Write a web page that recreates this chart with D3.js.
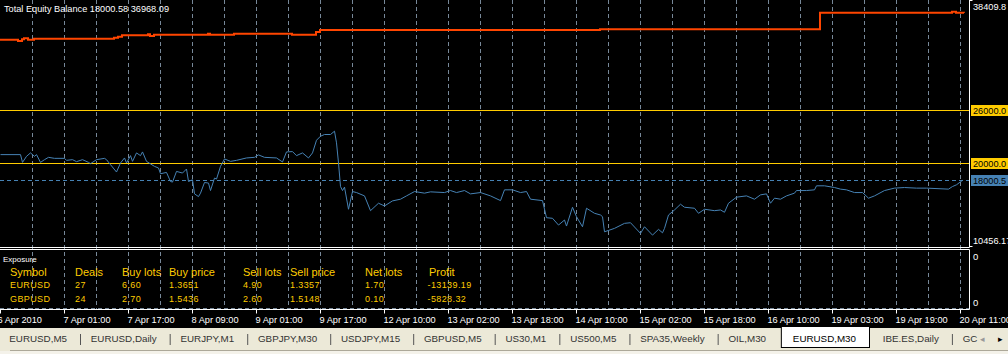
<!DOCTYPE html>
<html>
<head>
<meta charset="utf-8">
<script src="https://cdn.jsdelivr.net/npm/d3@7"></script>
<style>
body { margin: 0; background: #000; overflow: hidden; }
svg text { font-family: "Liberation Sans", Arial, sans-serif; }
</style>
</head>
<body>
<script>
// ---- data ----
var equityBars = [0,10,11,13,15,17,18,20,22,24,27,32,33,36,38,41,44,45,48,52,53,55,58,60,62,63,65,66,68,70,71,73,77,79,80,83,85,86,88,91,93,94,96,97,99,100,102,104,105,107,108,110,112,115,118,123,127,129,132,138,141,143,146,148,151,154,156,158,160,162,165,167,168,169,170,171,172,174,176,178,182,185,189,192,196,200,203,207,212,215,222,225,228,232,235,240,245,250,252,256,260,263,265,271,273,276,279,282,283,286,288,291,293,297,300,301,302,307,312,315,320,322,326,329,331,332,334,337,340,342,347,349,352,357,360,362,364,368,373,377,380,383,385,387,390,393,397,398,403,407,408,412,417,420,423,427,431,434,437,442,447,452,458,463,474,476,478,481];
var equityValues = [20911,20911,20034,20717,21104,20717,20911,20034,20341,20603,20489,20489,20262,20341,20114,20341,20034,19886,20341,20489,20341,19772,18941,19965,20535,19965,20797,20148,21104,20797,21218,20148,19579,19397,18747,18895,17870,17802,19009,18827,19282,17870,18064,16470,16163,16550,17757,17689,16846,18258,18144,19579,20421,20148,20262,20535,20603,20877,20603,20535,20079,21218,21252,20797,21104,20535,21104,22539,22994,23188,23188,23564,22243,19965,17301,16846,17233,14728,16732,16618,16242,14569,15411,15104,15673,15867,16242,16732,16550,16698,16618,16846,16618,16846,16470,16618,16242,15707,16926,16926,16618,16732,15867,15707,13772,13704,12940,13510,12827,14956,13885,12747,14842,14272,14079,13885,12177,12565,13133,13203,11995,12747,11802,12451,12063,12565,14079,14648,15297,14956,14842,14272,14728,14569,14648,14386,15411,16094,16242,15867,16356,16470,15411,15981,15867,16242,16550,16846,16846,16926,17381,17381,17188,17005,16926,16618,16618,15981,16242,16846,17119,17188,17119,17119,17005,17301,17495,18000.58];

var balanceBars = [0,9,11,12,14,17,57,59,61,74,75,77,104,105,117,146,158,160,300,410,476,478,482];
var balanceValues = [33917,33770,33962,34075,33917,34030,34143,34256,34415,34528,34336,34483,34596,34483,34596,34483,34800,35015,35100,36972,37086,36972,36968.09];

var levelValues = [26000, 20000];
var currentEquity = 18000.58;
var currentBalance = 36968.09;
var axisMax = 38409.8;
var axisMin = 10456.17;
var subLabels = ["0", "0"];

var timeTickBars = [0,32,64,96,128,160,192,224,256,288,320,352,384,416,448,480];
var timeLabels = ["6 Apr 2010","7 Apr 01:00","7 Apr 17:00","8 Apr 09:00","9 Apr 01:00","9 Apr 17:00","12 Apr 10:00","13 Apr 02:00","13 Apr 18:00","14 Apr 10:00","15 Apr 02:00","15 Apr 18:00","16 Apr 10:00","19 Apr 03:00","19 Apr 19:00","20 Apr 11:00"];

var exposureHeader = ["Symbol","Deals","Buy lots","Buy price","Sell lots","Sell price","Net lots","Profit"];
var exposureEURUSD = ["EURUSD","27","6.60","1.3651","4.90","1.3357","1.70","-13139.19"];
var exposureGBPUSD = ["GBPUSD","24","2.70","1.5436","2.60","1.5148","0.10","-5828.32"];

var tabLabels = ["EURUSD,M5","EURUSD,Daily","EURJPY,M1","GBPJPY,M30","USDJPY,M15","GBPUSD,M5","US30,M1","US500,M5","SPA35,Weekly","OIL,M30","EURUSD,M30","IBE.ES,Daily","GC"];
var activeTab = "EURUSD,M30";

// ---- layout ----
var W = 1008, H = 354;
var chartRight = 969.5;
var mainBottom = 247;
var subTop = 249.5, subBottom = 309.5;
var gold = "#FFCC00";
var grid = "#778899";
var exposureCols = [10, 75, 122, 169, 243, 290, 365, 429];

// MT4 cuts the price label instead of rounding it
function cut(v, n) {
    var p = Math.pow(10, n);
    return (Math.floor(v * p) / p).toFixed(n);
}

var x = d3.scaleLinear().domain([0, 32]).range([0, 64]);
var y = d3.scaleLinear().domain([axisMin, axisMax]).range([mainBottom, 0]);
var ySub = d3.scaleLinear().domain([0, 1]).range([305.5, 259.5]);

var svg = d3.select("body").append("svg")
    .attr("width", W)
    .attr("height", H);

svg.append("rect").attr("width", W).attr("height", H).attr("fill", "#000");

// vertical grid
svg.append("g").selectAll("line")
    .data(d3.range(16, 484, 16))
    .join("line")
    .attr("x1", d => x(d) + 0.5)
    .attr("x2", d => x(d) + 0.5)
    .attr("y1", 0)
    .attr("y2", subBottom)
    .attr("stroke", grid)
    .attr("stroke-dasharray", "4,3");

// zero line in subwindow
svg.append("line")
    .attr("x1", 0).attr("x2", chartRight)
    .attr("y1", 308.5).attr("y2", 308.5)
    .attr("stroke", grid)
    .attr("stroke-dasharray", "4,3");

// level lines
svg.append("g").selectAll("line")
    .data(levelValues)
    .join("line")
    .attr("x1", 0).attr("x2", chartRight)
    .attr("y1", d => Math.round(y(d)) + 0.5)
    .attr("y2", d => Math.round(y(d)) + 0.5)
    .attr("stroke", gold);

// current equity dashed
svg.append("line")
    .attr("x1", 0).attr("x2", chartRight)
    .attr("y1", Math.round(y(currentEquity)) + 0.5)
    .attr("y2", Math.round(y(currentEquity)) + 0.5)
    .attr("stroke", "steelblue")
    .attr("stroke-dasharray", "4,3");

// balance & equity lines
var balanceData = balanceBars.map((b, i) => ({ bar: b, value: balanceValues[i] }));
var equityData = equityBars.map((b, i) => ({ bar: b, value: equityValues[i] }));

svg.append("path")
    .datum(balanceData)
    .attr("fill", "none")
    .attr("stroke", "#FF4500")
    .attr("stroke-width", 2)
    .attr("d", d3.line().curve(d3.curveStepAfter).x(d => x(d.bar)).y(d => y(d.value)));

svg.append("path")
    .datum(equityData)
    .attr("fill", "none")
    .attr("stroke", "steelblue")
    .attr("stroke-width", 1)
    .attr("d", d3.line().x(d => x(d.bar) + 0.5).y(d => y(d.value)));

// frames
var frame = svg.append("g").attr("stroke", "#fff").attr("stroke-width", 1);
frame.append("line").attr("x1", 0).attr("x2", chartRight).attr("y1", mainBottom + 0.5).attr("y2", mainBottom + 0.5);
frame.append("line").attr("x1", chartRight).attr("x2", chartRight).attr("y1", 0).attr("y2", mainBottom + 0.5);
frame.append("line").attr("x1", 0).attr("x2", chartRight).attr("y1", subTop).attr("y2", subTop);
frame.append("line").attr("x1", chartRight).attr("x2", chartRight).attr("y1", subTop).attr("y2", subBottom);
frame.append("line").attr("x1", chartRight).attr("x2", chartRight + 3).attr("y1", 0.5).attr("y2", 0.5);
frame.append("line").attr("x1", chartRight).attr("x2", chartRight + 3).attr("y1", mainBottom - 0.5).attr("y2", mainBottom - 0.5);

// right price labels
svg.append("text")
    .attr("x", 973).attr("y", 9.5)
    .attr("fill", "#fff").attr("font-size", "9.2px")
    .text(cut(axisMax, 1));
svg.append("text")
    .attr("x", 973).attr("y", 244)
    .attr("fill", "#fff").attr("font-size", "9.2px")
    .text(cut(axisMin, 2));

var boxes = levelValues.map(v => ({ value: v, fill: gold, text: cut(v, 1) }));
boxes.push({ value: currentEquity, fill: "steelblue", text: cut(currentEquity, 1) });

var boxG = svg.append("g").selectAll("g").data(boxes).join("g")
    .attr("transform", d => "translate(0," + Math.round(y(d.value)) + ")");
boxG.append("rect")
    .attr("x", 971).attr("y", -5)
    .attr("width", 40).attr("height", 11)
    .attr("fill", d => d.fill);
boxG.append("text")
    .attr("x", 973).attr("y", 4)
    .attr("fill", "#000").attr("font-size", "9.2px")
    .text(d => d.text);

// subwindow labels
svg.append("g").selectAll("text")
    .data(subLabels)
    .join("text")
    .attr("x", 973)
    .attr("y", (d, i) => ySub(1 - i))
    .attr("fill", "#fff").attr("font-size", "9.5px")
    .text(d => d);

// title
svg.append("text")
    .attr("x", 4).attr("y", 12)
    .attr("fill", "#fff").attr("font-size", "9.2px")
    .text("Total Equity Balance " + currentEquity.toFixed(2) + " " + currentBalance.toFixed(2));

// exposure table
svg.append("text")
    .attr("x", 3).attr("y", 262)
    .attr("fill", "#fff").attr("font-size", "8px")
    .text("Exposure");

svg.append("g").selectAll("text")
    .data(exposureHeader)
    .join("text")
    .attr("x", (d, i) => exposureCols[i])
    .attr("y", 276)
    .attr("fill", gold).attr("font-size", "11px")
    .text(d => d);

[exposureEURUSD, exposureGBPUSD].forEach(function(row, r) {
    svg.append("g").selectAll("text")
        .data(row)
        .join("text")
        .attr("x", (d, i) => exposureCols[i] - (d[0] == "-" ? 1.5 : 0))
        .attr("y", 288 + r * 14)
        .attr("fill", gold).attr("font-size", "9px")
        .attr("letter-spacing", "0.4px")
        .text(d => d);
});

// time axis
svg.append("line")
    .attr("x1", 0).attr("x2", chartRight)
    .attr("y1", subBottom).attr("y2", subBottom)
    .attr("stroke", "#fff");

var xAxis = svg.append("g")
    .attr("transform", "translate(0," + subBottom + ")")
    .call(d3.axisBottom(x)
        .tickValues(timeTickBars)
        .tickFormat((d, i) => timeLabels[i])
        .tickSize(4)
        .tickPadding(3));
xAxis.select(".domain").remove();
xAxis.selectAll("line").attr("stroke", "#fff");
xAxis.selectAll("text")
    .attr("fill", "#fff")
    .attr("font-size", "9.2px")
    .attr("font-family", "Liberation Sans, Arial, sans-serif")
    .attr("text-anchor", "start")
    .attr("x", (d, i) => i == 0 ? -3 : -1);

// tabs
var tabG = svg.append("g");
tabG.append("rect").attr("x", 0).attr("y", 328).attr("width", W).attr("height", H - 328).attr("fill", "#ECE9D8");
tabG.append("line").attr("x1", 10).attr("x2", W).attr("y1", 350.5).attr("y2", 350.5).attr("stroke", "#ACA899");
tabG.append("rect").attr("x", 0).attr("y", 351).attr("width", W).attr("height", 3).attr("fill", "#F4F2EA");

var tx = 9.3;
tabLabels.forEach(function(label, i) {
    var isActive = label == activeTab;
    if (isActive) tx += 3;
    var t = tabG.append("text")
        .attr("x", tx).attr("y", 341.5)
        .attr("font-size", "9.8px")
        .attr("fill", isActive ? "#000" : "#333")
        .text(label);
    var w = t.node().getComputedTextLength();
    if (isActive) {
        tabG.insert("rect", "text")
            .attr("x", tx - 11.5).attr("y", 326.5)
            .attr("width", w + 25).attr("height", 21)
            .attr("fill", "#fff").attr("stroke", "#000");
        tx += 3;
    }
    var next = tabLabels[i + 1];
    if (next && !isActive && next != activeTab) {
        tabG.append("line")
            .attr("x1", tx + w + 13.5).attr("x2", tx + w + 13.5)
            .attr("y1", 334).attr("y2", 345)
            .attr("stroke", "#555");
    }
    tx = tx + w + 23.8;
});

// scroll arrows
tabG.append("text").attr("x", 980).attr("y", 342).attr("font-size", "9px")
    .attr("font-family", "DejaVu Sans").attr("fill", "#999").text("\u25C2");
tabG.append("text").attr("x", 998).attr("y", 342).attr("font-size", "9px")
    .attr("font-family", "DejaVu Sans").attr("fill", "#000").text("\u25B8");
</script>
</body>
</html>
